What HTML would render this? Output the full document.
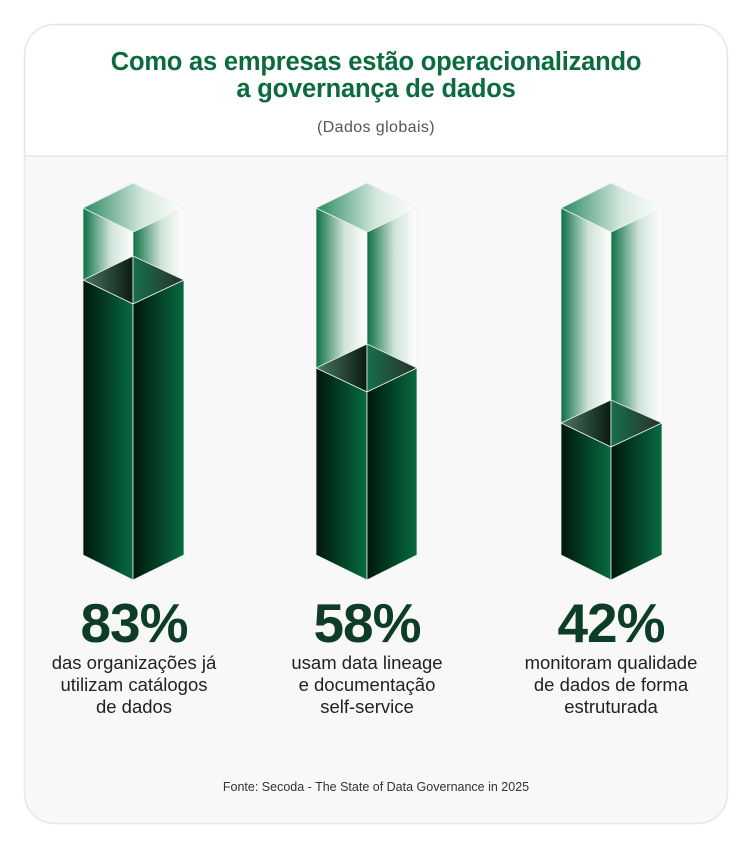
<!DOCTYPE html>
<html><head><meta charset="utf-8"><style>
html,body{margin:0;padding:0;background:#fff;}
body{width:752px;height:846px;position:relative;font-family:"Liberation Sans",sans-serif;}
</style></head><body>
<svg width="752" height="846" viewBox="0 0 752 846" xmlns="http://www.w3.org/2000/svg">
<defs>
<clipPath id="card"><rect x="24" y="24" width="704" height="800" rx="30"/></clipPath>
<linearGradient id="gw" x1="0" x2="1" y1="0" y2="0"><stop offset="0" stop-color="#0b7044"/><stop offset="0.55" stop-color="#cfe3d8"/><stop offset="1" stop-color="#ffffff"/></linearGradient>
<linearGradient id="gt" x1="0" x2="1" y1="0" y2="0"><stop offset="0" stop-color="#2a8a60"/><stop offset="0.6" stop-color="#d5e8de"/><stop offset="1" stop-color="#ffffff"/></linearGradient>
<linearGradient id="gd" x1="0" x2="1" y1="0" y2="0"><stop offset="0" stop-color="#00170c"/><stop offset="1" stop-color="#076b40"/></linearGradient>
<linearGradient id="gi1" x1="0" x2="1" y1="0" y2="0"><stop offset="0" stop-color="#4a7a62"/><stop offset="1" stop-color="#0b1a12"/></linearGradient>
<linearGradient id="gi2" x1="0" x2="1" y1="0" y2="0"><stop offset="0" stop-color="#15704a"/><stop offset="1" stop-color="#2b2f2c"/></linearGradient>
</defs>
<rect x="24" y="24" width="704" height="800" rx="30" fill="#f8f8f8"/>
<g clip-path="url(#card)"><rect x="24" y="24" width="704" height="131" fill="#fff"/><rect x="24" y="155" width="704" height="2" fill="#ececec"/></g>
<rect x="24.5" y="24.5" width="703" height="799" rx="30" fill="none" stroke="#e6e6e6" stroke-width="1.5"/>
<g font-family="Liberation Sans, sans-serif" text-anchor="middle">
<text x="376" y="70" font-size="25.5" font-weight="bold" fill="#0b6b3f" letter-spacing="-0.2">Como as empresas estão operacionalizando</text>
<text x="376" y="97" font-size="25.5" font-weight="bold" fill="#0b6b3f" letter-spacing="-0.2">a governança de dados</text>
<text x="376" y="132" font-size="16" fill="#555" letter-spacing="0.4">(Dados globais)</text>
</g>
<g id="bars" stroke="#e8f0ec" stroke-width="0.8" stroke-linejoin="round">
<polygon points="83,208 133,232 133,304 83,280" fill="url(#gw)"/>
<polygon points="133,232 184,208 184,280 133,304" fill="url(#gw)"/>
<polygon points="83,280 133,256 133,304" fill="url(#gi1)"/>
<polygon points="133,256 184,280 133,304" fill="url(#gi2)"/>
<polygon points="83,208 133,183 184,208 133,232" fill="url(#gt)"/>
<polygon points="83,280 133,304 133,580 83,555" fill="url(#gd)"/>
<polygon points="133,304 184,280 184,555 133,580" fill="url(#gd)"/>
<polygon points="316,208 367,232 367,392 316,368" fill="url(#gw)"/>
<polygon points="367,232 417,208 417,368 367,392" fill="url(#gw)"/>
<polygon points="316,368 367,344 367,392" fill="url(#gi1)"/>
<polygon points="367,344 417,368 367,392" fill="url(#gi2)"/>
<polygon points="316,208 367,183 417,208 367,232" fill="url(#gt)"/>
<polygon points="316,368 367,392 367,580 316,555" fill="url(#gd)"/>
<polygon points="367,392 417,368 417,555 367,580" fill="url(#gd)"/>
<polygon points="561,208 611,232 611,447 561,423" fill="url(#gw)"/>
<polygon points="611,232 662,208 662,423 611,447" fill="url(#gw)"/>
<polygon points="561,423 611,400 611,447" fill="url(#gi1)"/>
<polygon points="611,400 662,423 611,447" fill="url(#gi2)"/>
<polygon points="561,208 611,183 662,208 611,232" fill="url(#gt)"/>
<polygon points="561,423 611,447 611,580 561,555" fill="url(#gd)"/>
<polygon points="611,447 662,423 662,555 611,580" fill="url(#gd)"/>
</g>
<g font-family="Liberation Sans, sans-serif" text-anchor="middle">
<text x="134" y="642" font-size="55" font-weight="bold" fill="#0d3d26" letter-spacing="-1">83%</text>
<text x="367" y="642" font-size="55" font-weight="bold" fill="#0d3d26" letter-spacing="-1">58%</text>
<text x="611" y="642" font-size="55" font-weight="bold" fill="#0d3d26" letter-spacing="-1">42%</text>
<g font-size="18.5" fill="#222">
<text x="134" y="669">das organizações já</text><text x="134" y="691">utilizam catálogos</text><text x="134" y="713">de dados</text>
<text x="367" y="669">usam data lineage</text><text x="367" y="691">e documentação</text><text x="367" y="713">self-service</text>
<text x="611" y="669">monitoram qualidade</text><text x="611" y="691">de dados de forma</text><text x="611" y="713">estruturada</text>
</g>
<text x="376" y="791" font-size="12.5" fill="#333">Fonte: Secoda - The State of Data Governance in 2025</text>
</g>
</svg>
</body></html>
